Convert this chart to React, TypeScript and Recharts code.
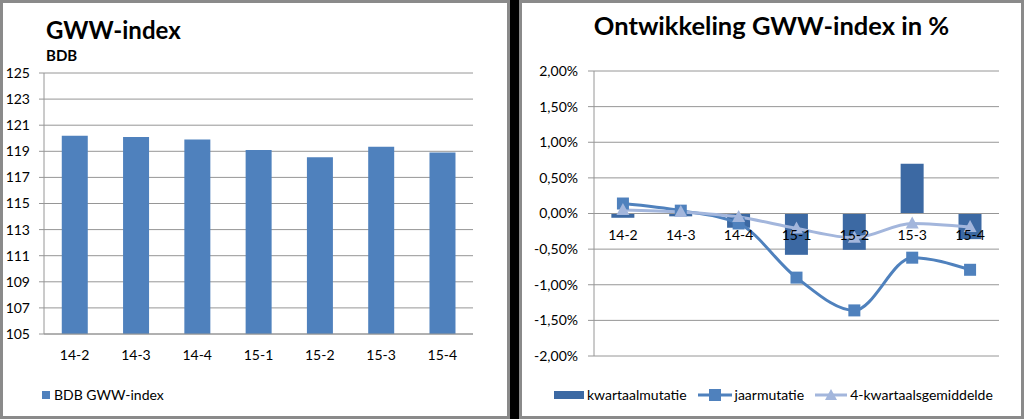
import React from "react";
import {
  BarChart,
  Bar,
  ComposedChart,
  Line,
  XAxis,
  YAxis,
  CartesianGrid,
  Legend,
  ReferenceLine,
  ReferenceDot,
} from "recharts";

const quarters = ["14-2", "14-3", "14-4", "15-1", "15-2", "15-3", "15-4"];
const gwwIndex = [120.2, 120.1, 119.9, 119.1, 118.55, 119.35, 118.9];
const kwartaalmutatie = [-0.06, -0.04, -0.2, -0.58, -0.51, 0.7, -0.36];
const jaarmutatie = [0.14, 0.04, -0.14, -0.9, -1.36, -0.62, -0.79];
const vierKwartaals = [0.05, 0.02, -0.05, -0.21, -0.34, -0.14, -0.19];
const indexTicks = [105, 107, 109, 111, 113, 115, 117, 119, 121, 123, 125];
const pctTicks = [-2, -1.5, -1, -0.5, 0, 0.5, 1, 1.5, 2];
const pctSeries = ["kwartaalmutatie", "jaarmutatie", "4-kwartaalsgemiddelde"];

const FONT = "Lato, 'Open Sans', sans-serif";
const INDEX_COLOR = "#4f81bd";
const KW_COLOR = "#3c69a3";
const JAAR_COLOR = "#4f81bd";
const GEM_COLOR = "#a3b6dc";
const GRID = "#969696";

const indexData = quarters.map((q, i) => ({ q, index: gwwIndex[i] }));
const pctData = quarters.map((q, i) => ({
  q,
  kwartaal: kwartaalmutatie[i],
  jaar: jaarmutatie[i],
  gem: vierKwartaals[i],
}));

const pct = (v: number) => v.toFixed(2).replace(".", ",") + "%";

const tickStyle = { fill: "#000", fontSize: 14, fontFamily: FONT };

function Square(props: any) {
  const { cx, cy } = props;
  if (cx == null || cy == null) return null;
  return <rect x={cx - 6} y={cy - 6} width={12} height={12} fill={JAAR_COLOR} />;
}

function Triangle(props: any) {
  const { cx, cy } = props;
  if (cx == null || cy == null) return null;
  return (
    <polygon
      points={`${cx},${cy - 7} ${cx + 6.5},${cy + 5} ${cx - 6.5},${cy + 5}`}
      fill={GEM_COLOR}
    />
  );
}

function IndexLegend(props: any) {
  const items = props.payload || [];
  return (
    <div style={{ display: "flex", alignItems: "center", fontFamily: FONT, fontSize: 14, color: "#000" }}>
      {items.map((it: any) => (
        <span key={it.value} style={{ display: "flex", alignItems: "center" }}>
          <span style={{ width: 8, height: 8, background: INDEX_COLOR, marginRight: 4 }} />
          {it.value}
        </span>
      ))}
    </div>
  );
}

function pctIcon(name: string) {
  if (name === "kwartaalmutatie") {
    return (
      <svg width={30} height={10}>
        <rect x={0} y={1} width={30} height={8} fill={KW_COLOR} />
      </svg>
    );
  }
  if (name === "jaarmutatie") {
    return (
      <svg width={34} height={14}>
        <line x1={0} y1={7} x2={34} y2={7} stroke={JAAR_COLOR} strokeWidth={3} />
        <rect x={11} y={1} width={12} height={12} fill={JAAR_COLOR} />
      </svg>
    );
  }
  return (
    <svg width={32} height={14}>
      <line x1={0} y1={7} x2={32} y2={7} stroke={GEM_COLOR} strokeWidth={3} />
      <polygon points="16,1 22,12 10,12" fill={GEM_COLOR} />
    </svg>
  );
}

function PctLegend() {
  return (
    <div style={{ display: "flex", alignItems: "center", fontFamily: FONT, fontSize: 14, color: "#000", whiteSpace: "nowrap" }}>
      {pctSeries.map((name) => (
        <span key={name} style={{ display: "flex", alignItems: "center", marginRight: 11 }}>
          {pctIcon(name)}
          <span style={{ marginLeft: 3 }}>{name}</span>
        </span>
      ))}
    </div>
  );
}

export default function App() {
  return (
    <div style={{ position: "relative", width: 1024, height: 419, background: "#000", overflow: "hidden" }}>
      <style>{`body{margin:0}`}</style>
      <div
        style={{
          position: "absolute",
          left: 0,
          top: 0,
          width: 510,
          height: 419,
          background: "#fff",
          border: "3px solid #8a8a8a",
          boxSizing: "border-box",
        }}
      />
      <div
        style={{
          position: "absolute",
          left: 519,
          top: 0,
          width: 505,
          height: 419,
          background: "#fff",
          border: "3px solid #8a8a8a",
          boxSizing: "border-box",
        }}
      />

      <div style={{ position: "absolute", left: 0, top: 0 }}>
        <BarChart width={510} height={419} data={indexData} margin={{ top: 73, right: 37, left: 0, bottom: 55 }} barCategoryGap="29%">
          <CartesianGrid vertical={false} stroke={GRID} />
          <XAxis
            dataKey="q"
            height={30}
            axisLine={{ stroke: GRID }}
            tickLine={false}
            tickSize={5}
            tickMargin={11}
            tick={tickStyle}
          />
          <YAxis
            width={44}
            domain={[105, 125]}
            ticks={indexTicks}
            interval={0}
            axisLine={{ stroke: GRID }}
            tickLine={{ stroke: GRID }}
            tickSize={5}
            tickMargin={9}
            tick={tickStyle}
          />
          <Legend
            layout="horizontal"
            verticalAlign="middle"
            align="center"
            content={<IndexLegend />}
            wrapperStyle={{ left: 42, top: 386, width: "auto" }}
          />
          <Bar dataKey="index" name="BDB GWW-index" fill={INDEX_COLOR} isAnimationActive={false} />
        </BarChart>
      </div>

      <div style={{ position: "absolute", left: 519, top: 0 }}>
        <ComposedChart width={505} height={419} data={pctData} margin={{ top: 71, right: 25, left: 0, bottom: 63 }} barCategoryGap="30%">
          <CartesianGrid vertical={false} stroke={GRID} />
          <XAxis dataKey="q" hide />
          <YAxis
            width={75}
            domain={[-2, 2]}
            ticks={pctTicks}
            interval={0}
            tickFormatter={pct}
            axisLine={{ stroke: GRID }}
            tickLine={{ stroke: GRID }}
            tickSize={6}
            tickMargin={10}
            tick={tickStyle}
          />
          <ReferenceLine y={0} stroke={GRID} />
          <Legend
            layout="horizontal"
            verticalAlign="middle"
            align="center"
            content={<PctLegend />}
            wrapperStyle={{ left: 35, top: 386, width: "auto" }}
          />
          <Bar dataKey="kwartaal" name={pctSeries[0]} fill={KW_COLOR} isAnimationActive={false} />
          {quarters.map((q) => (
            <ReferenceDot
              key={q}
              x={q}
              y={0}
              r={0}
              fill="none"
              stroke="none"
              label={{ value: q, position: "bottom", offset: 17, fill: "#000", fontSize: 14, fontFamily: FONT }}
            />
          ))}
          <Line
            type="monotone"
            dataKey="jaar"
            name={pctSeries[1]}
            stroke={JAAR_COLOR}
            strokeWidth={3}
            dot={<Square />}
            activeDot={false}
            isAnimationActive={false}
          />
          <Line
            type="monotone"
            dataKey="gem"
            name={pctSeries[2]}
            stroke={GEM_COLOR}
            strokeWidth={3}
            dot={<Triangle />}
            activeDot={false}
            isAnimationActive={false}
          />
        </ComposedChart>
      </div>

      <div style={{ position: "absolute", left: 46, top: 18, fontFamily: FONT, fontWeight: 700, fontSize: 24, lineHeight: "24px", color: "#000" }}>
        GWW-index
      </div>
      <div style={{ position: "absolute", left: 46, top: 48, fontFamily: FONT, fontWeight: 700, fontSize: 15, lineHeight: "15px", color: "#000" }}>
        BDB
      </div>
      <div
        style={{
          position: "absolute",
          left: 519,
          width: 505,
          top: 13,
          textAlign: "center",
          fontFamily: FONT,
          fontWeight: 700,
          fontSize: 25.5,
          lineHeight: "25px",
          color: "#000",
        }}
      >
        Ontwikkeling GWW-index in %
      </div>
    </div>
  );
}
